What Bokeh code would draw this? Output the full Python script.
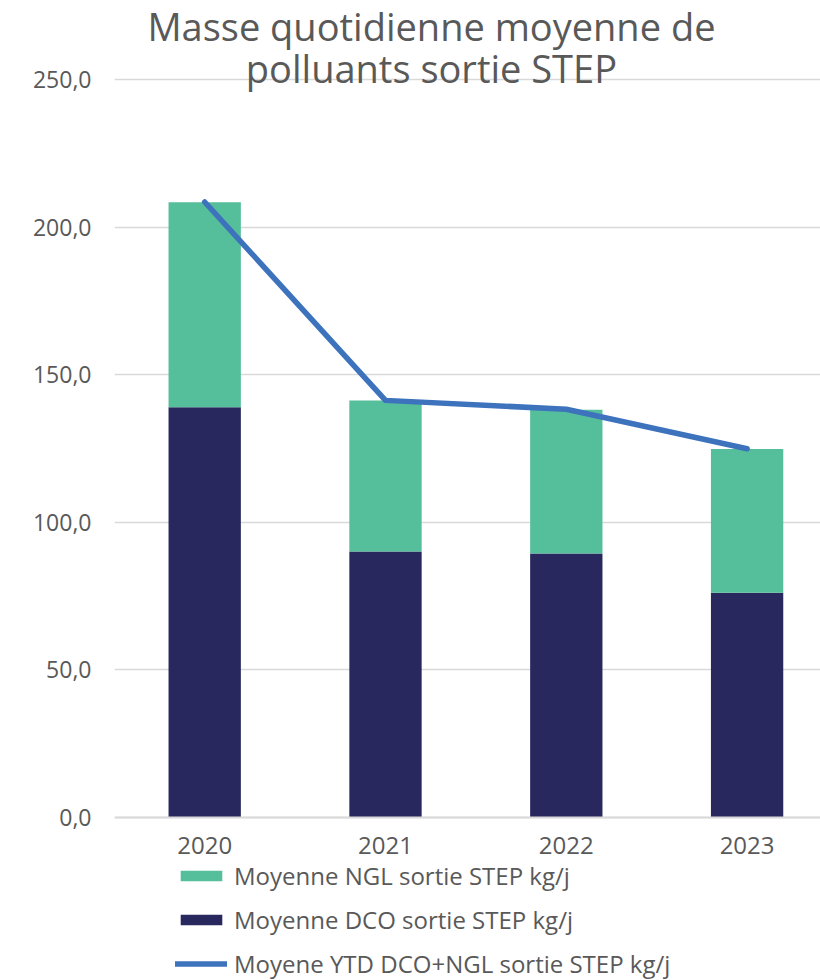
import numpy as np
from bokeh.plotting import figure
from bokeh.models import (Range1d, FixedTicker, Label, Legend, LegendItem)
from bokeh.embed import file_html
from bokeh.resources import INLINE

# ---- data ----
years = ["2020", "2021", "2022", "2023"]
dco = [139.0, 90.1, 89.4, 76.1]          # Moyenne DCO sortie STEP kg/j
ngl = [69.4, 51.2, 48.7, 48.7]           # Moyenne NGL sortie STEP kg/j
ytd_total = [208.5, 141.3, 138.3, 124.9] # Moyene YTD DCO+NGL sortie STEP kg/j
y_ticks = [0, 50, 100, 150, 200, 250]
y_tick_labels = ["0,0", "50,0", "100,0", "150,0", "200,0", "250,0"]
title_lines = ["Masse quotidienne moyenne de", "polluants sortie STEP"]
series_names = ["Moyenne NGL sortie STEP kg/j",
                "Moyenne DCO sortie STEP kg/j",
                "Moyene YTD DCO+NGL sortie STEP kg/j"]

# ---- styling ----
C_NGL = "#55BE9A"
C_DCO = "#29285E"
C_LINE = "#3D72BD"
C_GRID = "#D9D9D9"
C_TEXT = "#595959"
FONT = "Open Sans"

x = np.arange(len(years))
dco_a = np.array(dco)
tot_a = dco_a + np.array(ngl)

p = figure(width=820, height=980, output_backend="svg", toolbar_location=None,
           x_range=Range1d(-0.4989, 3.406), y_range=Range1d(-55.22, 276.76),
           min_border_left=114, min_border_right=0, min_border_top=0,
           min_border_bottom=0)
p.outline_line_color = None
p.background_fill_color = "white"
p.border_fill_color = "white"

r_dco = p.vbar(x=x, width=0.4, bottom=0, top=dco_a, fill_color=C_DCO, line_color=None)
r_ngl = p.vbar(x=x, width=0.4, bottom=dco_a, top=tot_a, fill_color=C_NGL, line_color=None)
r_line = p.line(x=x, y=ytd_total, line_color=C_LINE, line_width=5.5,
                line_cap="round", line_join="round")

# axes
p.yaxis.ticker = FixedTicker(ticks=y_ticks)
p.yaxis.major_label_overrides = {t: l for t, l in zip(y_ticks, y_tick_labels)}
p.yaxis.axis_line_color = None
p.yaxis.major_tick_line_color = None
p.yaxis.minor_tick_line_color = None
p.yaxis.major_tick_out = 0
p.yaxis.major_label_standoff = 23
p.yaxis.major_label_text_font = FONT
p.yaxis.major_label_text_font_size = "23px"
p.yaxis.major_label_text_color = C_TEXT

p.xaxis.fixed_location = 0
p.xaxis.ticker = FixedTicker(ticks=list(x))
p.xaxis.major_label_overrides = {int(i): y for i, y in zip(x, years)}
p.xaxis.axis_line_color = C_GRID
p.xaxis.axis_line_width = 2
p.xaxis.major_tick_line_color = None
p.xaxis.minor_tick_line_color = None
p.xaxis.major_tick_out = 0
p.xaxis.major_label_standoff = 20
p.xaxis.major_label_text_font = FONT
p.xaxis.major_label_text_font_size = "24px"
p.xaxis.major_label_text_color = C_TEXT

p.xgrid.grid_line_color = None
p.ygrid.grid_line_color = C_GRID
p.ygrid.grid_line_width = 1.5

# title (overlapping the top of the plot area as in the original)
title_x = 1.254
for txt, yy in zip(title_lines, [268.2, 253.8]):
    p.add_layout(Label(x=title_x, y=yy, text=txt, text_align="center",
                       text_baseline="alphabetic", text_font=FONT,
                       text_font_size="38px", text_color=C_TEXT))

legend = Legend(items=[LegendItem(label=series_names[0], renderers=[r_ngl]),
                       LegendItem(label=series_names[1], renderers=[r_dco]),
                       LegendItem(label=series_names[2], renderers=[r_line])],
                location=(61, 0), orientation="vertical",
                glyph_width=52, glyph_height=13, label_standoff=7,
                label_text_font=FONT, label_text_font_size="24px",
                label_text_color=C_TEXT, label_height=20, spacing=11,
                padding=0, margin=0, border_line_color=None,
                background_fill_alpha=0)
p.add_layout(legend, "center")

open("out.html", "w").write(file_html(p, INLINE))
